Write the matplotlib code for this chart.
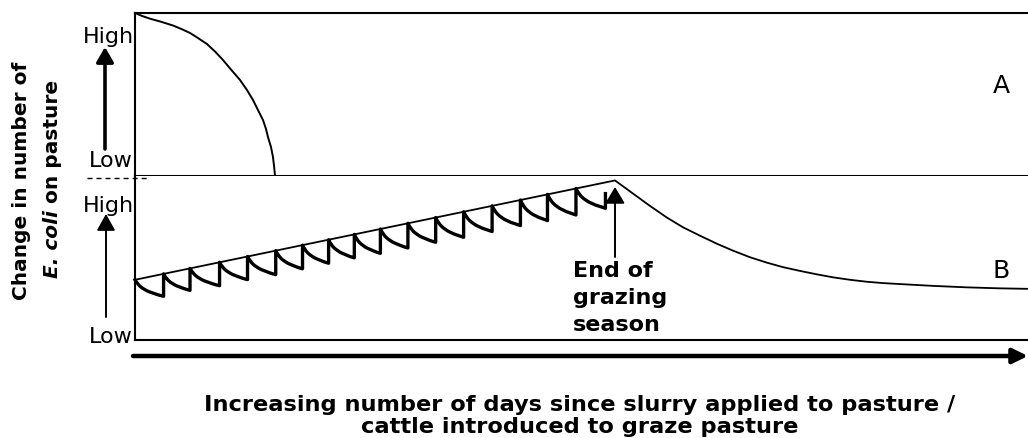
import matplotlib.pyplot as plt
import numpy as np
from matplotlib.patches import ArrowStyle, FancyArrowPatch

# x runs 0..100 along the time axis, y runs 0 (Low) .. 1 (High) in each panel

# A: die-off after slurry application (top panel)
a_x = [0, 0.78, 1.68, 2.80, 4.26, 5.26, 6.16, 7.05, 8.06, 8.96, 9.85, 10.75,
       11.76, 12.54, 13.21, 13.77, 14.33, 14.67, 14.89, 15.23, 15.45, 15.57, 15.68]
a_y = [1.0, 0.982, 0.965, 0.948, 0.923, 0.900, 0.877, 0.846, 0.809, 0.763, 0.711, 0.652,
       0.588, 0.526, 0.465, 0.403, 0.342, 0.286, 0.237, 0.175, 0.114, 0.058, 0.0]

# B: build-up during grazing then decline (bottom panel)
b_x = [0, 53.75, 54.76, 55.77, 57.67, 59.57, 61.37, 63.27, 65.17, 66.97, 68.87,
       70.77, 72.56, 74.47, 76.37, 78.16, 80.07, 81.97, 83.76, 85.67, 89.36,
       93.17, 96.86, 100]
b_y = [0.366, 0.970, 0.930, 0.890, 0.815, 0.744, 0.685, 0.634, 0.585, 0.543, 0.503,
       0.470, 0.443, 0.420, 0.399, 0.381, 0.366, 0.354, 0.346, 0.340, 0.329,
       0.320, 0.314, 0.311]

# grazing events (start of each scallop) and how far each one falls
tooth_x = [0, 3.2, 6.16, 9.47, 12.6, 15.76, 18.76, 21.68, 24.56, 27.48, 30.56,
           33.67, 36.8, 39.99, 43.16, 46.19, 49.38, 52.68]
tooth_drop = [0.10, 0.10, 0.105, 0.105, 0.11, 0.11, 0.11, 0.11, 0.115, 0.115,
              0.115, 0.12, 0.12, 0.12, 0.125, 0.125, 0.12]
last_top = 0.89
# shape of one scallop (fraction of width, fraction of drop)
prof_t = [0, 0.05, 0.1, 0.15, 0.2, 0.27, 0.35, 0.42, 0.5, 0.58, 0.65, 0.73, 0.8, 0.9, 1.0]
prof_d = [0, 0.14, 0.25, 0.35, 0.43, 0.52, 0.6, 0.67, 0.73, 0.78, 0.83, 0.87, 0.91, 0.96, 1.0]

W, H = 1028, 439
fig = plt.figure(figsize=(W / 100, H / 100), dpi=100)

def fx(px):
    return px / W

def fy(py):
    return 1 - py / H

ax_a = fig.add_axes([fx(135), fy(176.5), fx(1028) - fx(135), fy(14) - fy(176.5)])
ax_b = fig.add_axes([fx(135), fy(341), fx(1028) - fx(135), fy(176.5) - fy(341)])
for ax in (ax_a, ax_b):
    ax.set_xlim(0, 100)
    ax.set_ylim(0, 1)
    ax.set_xticks([])
    ax.set_yticks([])
    ax.spines['right'].set_visible(False)
    for s in ax.spines.values():
        s.set_linewidth(1.5)
ax_b.spines['top'].set_visible(False)

ax_a.plot(a_x, a_y, color='k', lw=1.4, clip_on=False)
ax_b.plot(b_x, b_y, color='k', lw=1.3, clip_on=False)

# scallops under the rising line
line_x = b_x[:2]
line_y = b_y[:2]
sx, sy = [], []
pt = np.array(prof_t)
pd_ = np.array(prof_d)
for i in range(len(tooth_x) - 1):
    x0, x1 = tooth_x[i], tooth_x[i + 1]
    y0 = np.interp(x0, line_x, line_y)
    sx += list(x0 + pt * (x1 - x0))
    sy += list(y0 - tooth_drop[i] * pd_)
    top = np.interp(x1, line_x, line_y) if i < len(tooth_x) - 2 else last_top
    sx.append(x1)
    sy.append(top)
ax_b.plot(sx, sy, color='k', lw=2.4, solid_joinstyle='round', clip_on=False)

# dashed separator on the left
ax_b.plot([-5.4, 1.3], [0.985, 0.985], color='k', lw=1.0, dashes=(3.6, 2.9), clip_on=False)

def arrow(x0, y0, x1, y1, lw, hl, hw):
    fig.add_artist(FancyArrowPatch(
        (x0, H - y0), (x1, H - y1), transform=None,
        arrowstyle=ArrowStyle('-|>', head_length=hl, head_width=hw),
        mutation_scale=20, lw=lw, color='k', shrinkA=0, shrinkB=0))

arrow(105, 150, 105, 48, 2.6, 0.45, 0.26)
arrow(106, 318, 106, 215, 1.4, 0.5, 0.28)
arrow(615, 258, 615, 188, 1.4, 0.5, 0.3)
arrow(133, 357, 1028, 357, 3.2, 0.45, 0.22)

fs = 16
fig.text(fx(134), fy(43), 'High', ha='right', va='baseline', fontsize=fs)
fig.text(fx(133), fy(167), 'Low', ha='right', va='baseline', fontsize=fs)
fig.text(fx(134), fy(212), 'High', ha='right', va='baseline', fontsize=fs)
fig.text(fx(133), fy(343), 'Low', ha='right', va='baseline', fontsize=fs)

fig.text(fx(1001), fy(86), 'A', ha='center', va='center', fontsize=18)
fig.text(fx(1001), fy(271), 'B', ha='center', va='center', fontsize=18)

for txt, base in zip(['End of', 'grazing', 'season'], [277, 304, 331]):
    fig.text(fx(573), fy(base), txt, ha='left', va='baseline', fontsize=16, weight='bold')

fig.text(fx(580), fy(405), 'Increasing number of days since slurry applied to pasture /',
         ha='center', va='center', fontsize=16.2, weight='bold')
fig.text(fx(580), fy(427), 'cattle introduced to graze pasture',
         ha='center', va='center', fontsize=16.2, weight='bold')

# y label, two rotated lines, second one partly italic
fig.text(fx(22), fy(180.5), 'Change in number of', rotation=90,
         ha='center', va='center', fontsize=14.5, weight='bold')
t1 = fig.text(fx(53), fy(278), 'E. coli', rotation=90, ha='center', va='bottom',
              fontsize=14.5, weight='bold', style='italic')
fig.canvas.draw()
h1 = t1.get_window_extent().height
fig.text(fx(53), fy(278) + h1 / H, ' on pasture', rotation=90, ha='center', va='bottom',
         fontsize=14.5, weight='bold')

fig.savefig('out.png', dpi=100)
